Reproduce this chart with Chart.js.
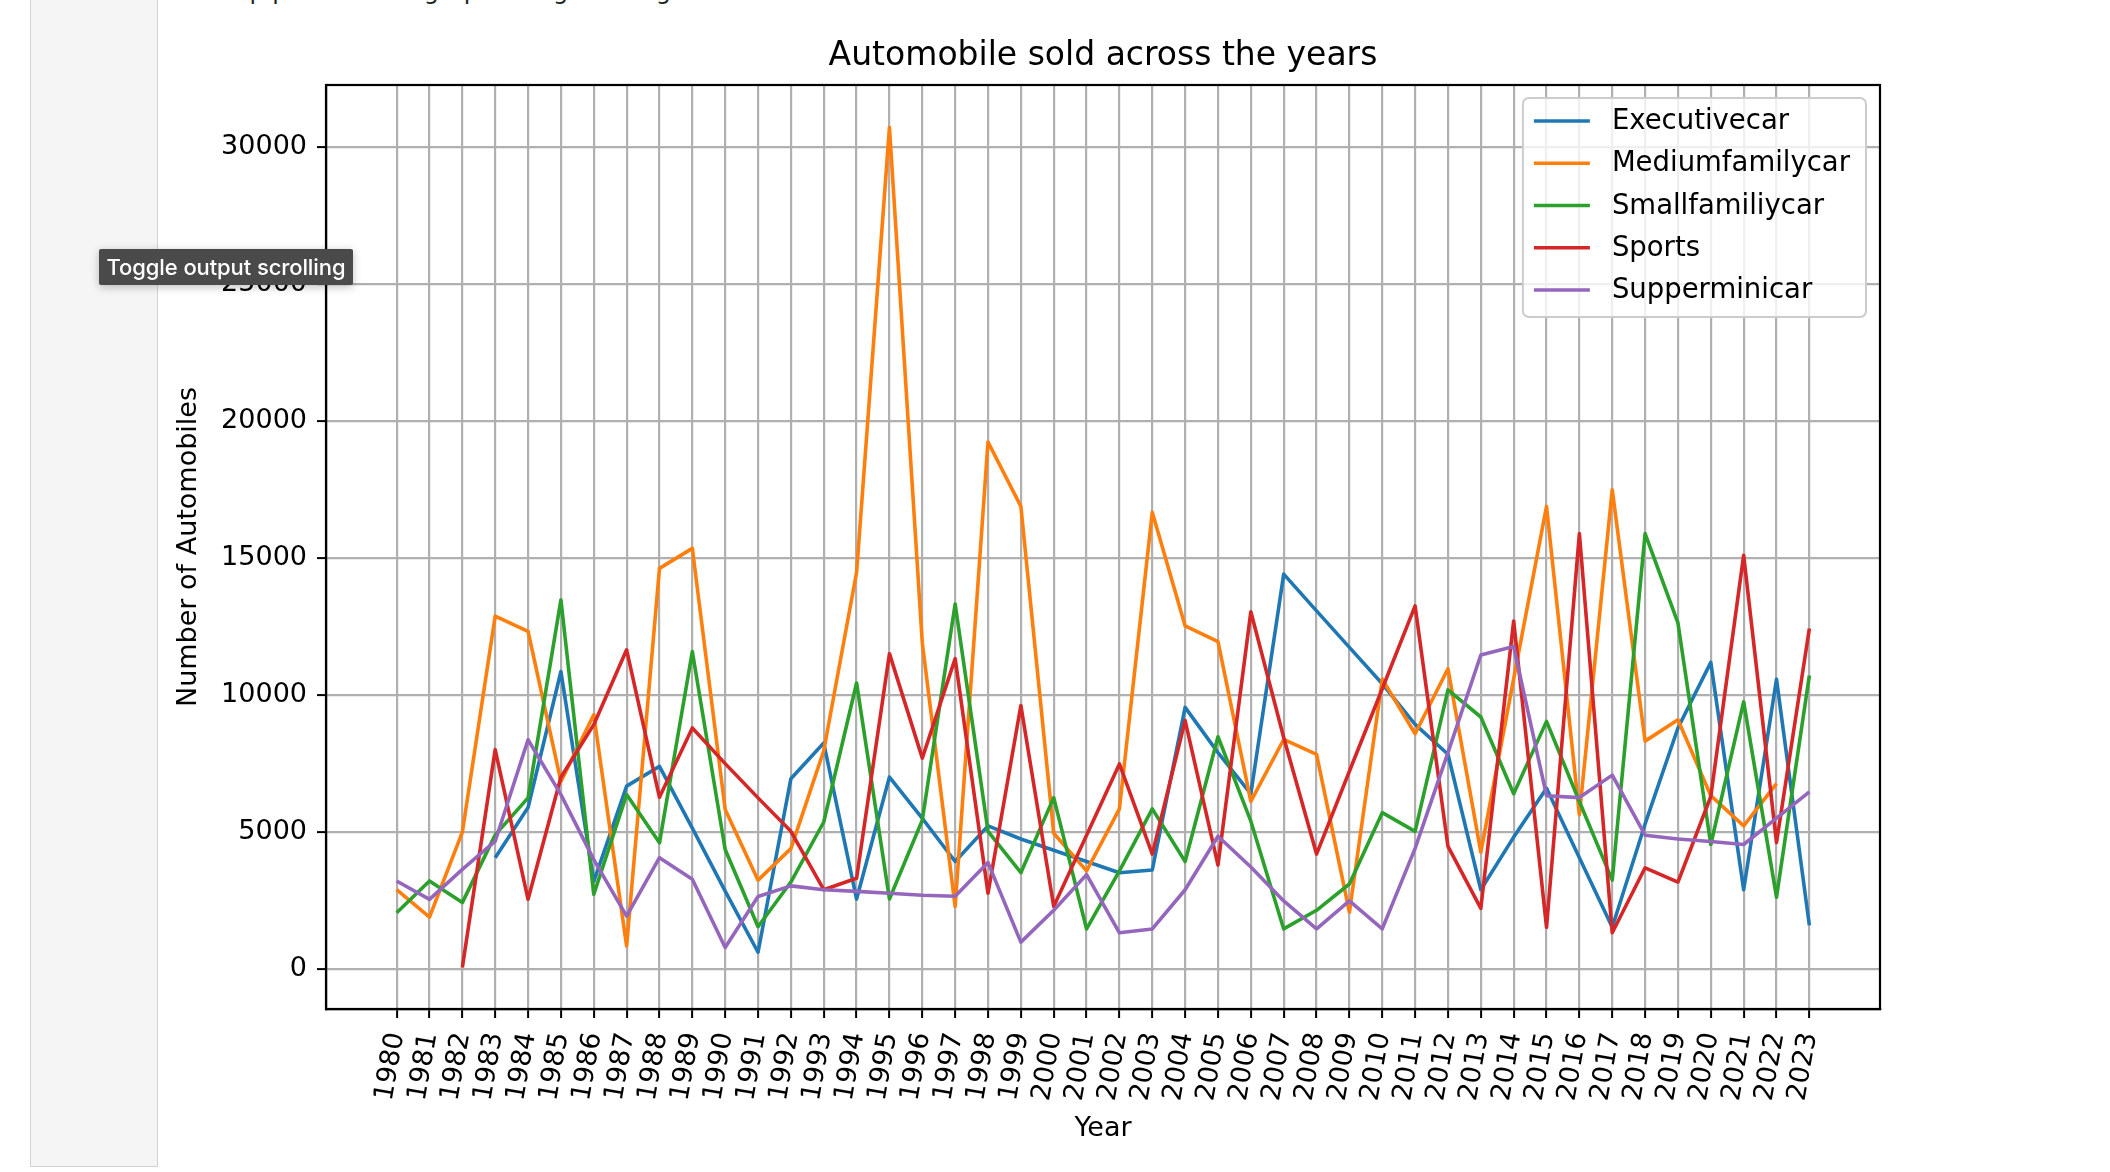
<!DOCTYPE html>
<html>
<head>
<meta charset="utf-8">
<title>Automobile sold across the years</title>
<script src="https://cdn.jsdelivr.net/npm/chart.js@4.4.1/dist/chart.umd.min.js"></script>
<style>
  html, body {
    margin: 0;
    padding: 0;
    background: #fff;
    width: 2110px;
    height: 1172px;
    overflow: hidden;
    position: relative;
  }
  .gutter {
    position: absolute;
    left: 30px;
    top: 0;
    width: 126px;
    height: 1166px;
    background: #f5f5f5;
    border: 1px solid #d2d2d2;
    border-top: none;
  }
  .cell-text {
    position: absolute;
    left: 210px;
    top: -23px;
    font-family: 'DejaVu Sans', sans-serif;
    font-size: 24px;
    color: #222;
    white-space: nowrap;
  }
  #chart {
    position: absolute;
    left: 160px;
    top: 0;
  }
  .tip {
    position: absolute;
    left: 99px;
    top: 249px;
    width: 254px;
    height: 36px;
    line-height: 36px;
    text-align: center;
    background: #4a4a4a;
    color: #fff;
    font-family: Inter, 'Open Sans', sans-serif;
    font-size: 22px;
    font-weight: 500;
    letter-spacing: -0.1px;
    border-radius: 2px;
    box-shadow: 0 2px 8px rgba(0,0,0,0.25);
    z-index: 5;
  }
</style>
</head>
<body>
<div class="gutter"></div>
<div class="cell-text">Step plot the line graph along with legend and labels.</div>
<canvas id="chart" width="1760" height="1172"></canvas>
<div class="tip">Toggle output scrolling</div>

<script>
const years = [
  1980, 1981, 1982, 1983, 1984, 1985, 1986, 1987, 1988, 1989,
  1990, 1991, 1992, 1993, 1994, 1995, 1996, 1997, 1998, 1999,
  2000, 2001, 2002, 2003, 2004, 2005, 2006, 2007, 2008, 2009,
  2010, 2011, 2012, 2013, 2014, 2015, 2016, 2017, 2018, 2019,
  2020, 2021, 2022, 2023,
];

const executiveCar = [
  null, null, null, 4070, 5900, 10860, 3200, 6680, 7400, 5150,
  2850, 620, 6950, 8250, 2560, 7010, 5500, 3930, 5230, 4750,
  4340, 3930, 3520, 3620, 9550, 7900, 6400, 14410, 13070, 11740,
  10410, 8930, 7840, 2900, 4820, 6600, 4070, 1530, 5300, 8800,
  11190, 2900, 10580, 1600,
];

const mediumFamilyCar = [
  2900, 1900, 5000, 12880, 12320, 6850, 9280, 850, 14620, 15350,
  5830, 3250, 4400, 7970, 14480, 30700, 11900, 2290, 19230, 16880,
  4960, 3590, 5850, 16670, 12520, 11950, 6120, 8380, 7840, 2080,
  10580, 8590, 10960, 4270, 10600, 16880, 5640, 17490, 8320, 9100,
  6330, 5230, 6770, null,
];

const smallFamilyCar = [
  2060, 3220, 2430, 4900, 6250, 13470, 2730, 6370, 4610, 11590,
  4370, 1550, 3180, 5370, 10440, 2560, 5440, 13320, 5030, 3520,
  6260, 1470, 3590, 5850, 3930, 8480, 5400, 1470, 2150, 3110,
  5710, 5030, 10190, 9200, 6400, 9040, 6120, 3250, 15890, 12630,
  4550, 9750, 2630, 10710,
];

const sports = [
  null, null, 60, 8010, 2550, 7000, 8920, 11650, 6270, 8800,
  7500, 6250, 5030, 2900, 3320, 11510, 7700, 11330, 2770, 9620,
  2290, 4890, 7490, 4200, 9070, 3800, 13040, 8450, 4200, 7220,
  10230, 13250, 4480, 2220, 12700, 1530, 15890, 1330, 3700, 3180,
  6300, 15100, 4620, 12430,
];

const superminiCar = [
  3220, 2550, 3640, 4670, 8370, 6370, 4000, 1940, 4070, 3280,
  790, 2650, 3040, 2900, 2840, 2770, 2700, 2660, 3890, 990,
  2150, 3450, 1330, 1470, 2900, 4850, 3730, 2490, 1470, 2490,
  1470, 4410, 7900, 11460, 11770, 6330, 6260, 7080, 4890, 4750,
  4660, 4550, 5510, 6470,
];

const seriesNames = ['Executivecar', 'Mediumfamilycar', 'Smallfamiliycar', 'Sports', 'Supperminicar'];
const seriesValues = [executiveCar, mediumFamilyCar, smallFamilyCar, sports, superminiCar];
const seriesColors = ['#1f77b4', '#ff7f0e', '#2ca02c', '#d62728', '#9467bd'];

const yTicks = [0, 5000, 10000, 15000, 20000, 25000, 30000];

const FONT = "'DejaVu Sans', 'Liberation Sans', sans-serif";
Chart.defaults.font.family = FONT;
Chart.defaults.color = '#000';

// pair each value with its year
const toPoints = (values) => values.map((v, i) => ({ x: years[i], y: v }));

const datasets = seriesNames.map((name, i) => ({
  label: name,
  data: toPoints(seriesValues[i]),
  borderColor: seriesColors[i],
  backgroundColor: seriesColors[i],
  borderWidth: 3.6,
  borderJoinStyle: 'round',
  pointRadius: 0,
  pointHoverRadius: 0,
  tension: 0,
  spanGaps: false,
  order: seriesNames.length - i, // later series drawn on top, like matplotlib
}));

// box round the plot + legend in the upper right corner
const framePlugin = {
  id: 'frame',
  afterDraw(chart) {
    const ctx = chart.ctx;
    const area = chart.chartArea;
    ctx.save();
    ctx.strokeStyle = '#000';
    ctx.lineWidth = 2.2;
    ctx.strokeRect(area.left, area.top, area.right - area.left, area.bottom - area.top);

    // legend
    ctx.font = '27.5px ' + FONT;
    let maxW = 0;
    seriesNames.forEach((n) => { maxW = Math.max(maxW, ctx.measureText(n).width); });
    const w = 89 + maxW + 16;
    const h = 219;
    const x = area.right - 14 - w;
    const y = area.top + 13;
    const r = 6;
    ctx.beginPath();
    ctx.moveTo(x + r, y);
    ctx.arcTo(x + w, y, x + w, y + h, r);
    ctx.arcTo(x + w, y + h, x, y + h, r);
    ctx.arcTo(x, y + h, x, y, r);
    ctx.arcTo(x, y, x + w, y, r);
    ctx.closePath();
    ctx.fillStyle = 'rgba(255,255,255,0.8)';
    ctx.fill();
    ctx.strokeStyle = '#cccccc';
    ctx.lineWidth = 2;
    ctx.stroke();

    ctx.textBaseline = 'middle';
    ctx.textAlign = 'left';
    seriesNames.forEach((n, i) => {
      const cy = y + 23 + i * 42.25;
      ctx.strokeStyle = seriesColors[i];
      ctx.lineWidth = 3.6;
      ctx.beginPath();
      ctx.moveTo(x + 11, cy);
      ctx.lineTo(x + 67, cy);
      ctx.stroke();
      ctx.fillStyle = '#000';
      ctx.fillText(n, x + 89, cy + 1);
    });
    ctx.restore();
  },
};

const ctx = document.getElementById('chart');

const config = {
  type: 'line',
  data: { datasets: datasets },
  options: {
    responsive: false,
    animation: false,
    devicePixelRatio: 1,
    layout: {
      padding: { left: 0, right: 40, top: 0, bottom: 0 },
    },
    plugins: {
      legend: { display: false },
      tooltip: { enabled: false },
      title: {
        display: true,
        text: 'Automobile sold across the years',
        fullSize: false,
        color: '#000',
        font: { size: 33, weight: 'normal' },
        padding: { top: 37, bottom: 8.4 },
      },
    },
    scales: {
      x: {
        type: 'linear',
        min: 1977.85,
        max: 2025.15,
        afterBuildTicks: (scale) => {
          scale.ticks = years.map((v) => ({ value: v }));
        },
        afterFit: (scale) => {
          scale.height = 163;
        },
        ticks: {
          autoSkip: false,
          minRotation: 80,
          maxRotation: 80,
          padding: 12,
          font: { size: 27 },
          color: '#000',
          callback: (value) => String(value),
        },
        grid: {
          color: '#b0b0b0',
          lineWidth: 2.2,
          tickLength: 9,
          tickColor: '#000',
          tickWidth: 2,
        },
        border: { display: true, color: '#000', width: 2.2 },
        title: {
          display: true,
          text: 'Year',
          color: '#000',
          font: { size: 27 },
          padding: { top: 4, bottom: 27 },
        },
      },
      y: {
        type: 'linear',
        min: -1450,
        max: 32250,
        afterBuildTicks: (scale) => {
          scale.ticks = yTicks.map((v) => ({ value: v }));
        },
        afterFit: (scale) => {
          scale.width = 166;
        },
        ticks: {
          padding: 10,
          font: { size: 27 },
          color: '#000',
          callback: (value) => String(value),
        },
        grid: {
          color: '#b0b0b0',
          lineWidth: 2.2,
          tickLength: 9,
          tickColor: '#000',
          tickWidth: 2,
        },
        border: { display: true, color: '#000', width: 2.2 },
        title: {
          display: true,
          text: 'Number of Automobiles',
          color: '#000',
          font: { size: 27 },
          padding: { top: 13, bottom: 4 },
        },
      },
    },
  },
  plugins: [framePlugin],
};

const myChart = new Chart(ctx, config);
</script>
</body>
</html>
